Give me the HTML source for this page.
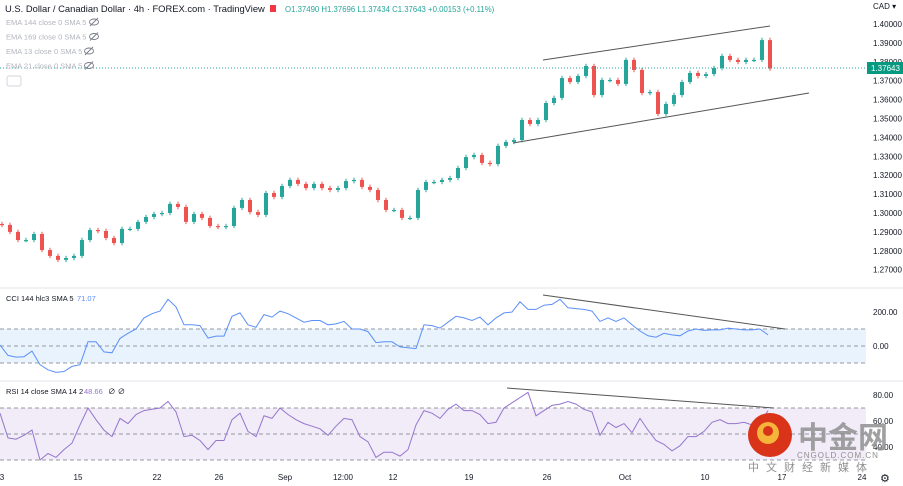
<!DOCTYPE html>
<html><head><meta charset="utf-8"><style>
html,body{margin:0;padding:0;background:#fff;width:903px;height:486px;overflow:hidden;font-family:"Liberation Sans","Noto Sans CJK SC",sans-serif}
svg{position:absolute;left:0;top:0}
</style></head><body>
<svg id="c" width="903" height="486" xmlns="http://www.w3.org/2000/svg"></svg>
<script>
const closes=[1.2937,1.2900,1.2857,1.2857,1.2889,1.2804,1.2773,1.2752,1.2762,1.2773,1.2857,1.2910,1.2905,1.2868,1.2841,1.2916,1.2916,1.2953,1.2979,1.2995,1.3000,1.3048,1.3032,1.2953,1.2995,1.2974,1.2931,1.2926,1.2931,1.3027,1.3069,1.3005,1.2990,1.3106,1.3085,1.3143,1.3175,1.3154,1.3132,1.3154,1.3132,1.3122,1.3132,1.3169,1.3175,1.3138,1.3122,1.3069,1.3016,1.3016,1.2974,1.2974,1.3122,1.3164,1.3164,1.3175,1.3185,1.3238,1.3296,1.3307,1.3265,1.3259,1.3355,1.3376,1.3386,1.3492,1.3471,1.3492,1.3582,1.3609,1.3714,1.3693,1.3725,1.3778,1.3624,1.3704,1.3704,1.3683,1.3810,1.3757,1.3635,1.3640,1.3524,1.3577,1.3624,1.3693,1.3741,1.3725,1.3735,1.3767,1.3831,1.3810,1.3799,1.3810,1.3810,1.3915,1.3764];
const cciValues=[5,-55,-65,-63,-30,-110,-140,-155,-150,-120,-110,25,25,-35,-40,45,75,100,165,190,205,275,230,125,125,120,47,58,58,175,195,125,110,185,170,205,190,165,140,150,150,125,130,145,100,100,85,20,25,25,-5,-10,-15,125,120,105,140,175,165,150,170,125,165,195,200,260,215,215,240,245,275,225,220,215,205,145,165,145,165,125,88,60,52,75,65,60,88,100,92,95,95,105,100,95,95,100,65];
const rsiValues=[66,47,46,49,53,30,35,32,38,43,57,70,61,53,48,62,58,65,68,69,70,75,67,48,49,45,38,45,45,61,66,52,48,64,62,70,65,61,58,56,54,49,56,62,61,48,44,32,36,36,33,38,57,68,66,62,69,73,68,68,65,58,59,70,74,78,82,64,68,72,73,75,73,69,67,49,59,55,58,51,62,53,45,42,37,41,48,48,52,59,61,58,58,59,57,58,68];
const priceTicks=[1.40,1.39,1.38,1.37,1.36,1.35,1.34,1.33,1.32,1.31,1.30,1.29,1.28,1.27];
const timeLabels=["3","15","22","26","Sep","12:00","12","19","26","Oct","10","17","24"];
const timeLabelX=[2,78,157,219,285,343,393,469,547,625,705,782,862];

const NS="http://www.w3.org/2000/svg";
const svg=document.getElementById('c');
function el(t,a,txt){const e=document.createElementNS(NS,t);for(const k in a)e.setAttribute(k,a[k]);if(txt!==undefined)e.textContent=txt;svg.appendChild(e);return e;}
const yP=p=>24+(1.40-p)/0.01*18.9;
const yC=v=>346-v*0.17;
const yR=v=>395-(v-80)*1.3;
const xCandle=i=>2+i*(768/(closes.length-1));
const xInd=(i,n)=>i*(768/(n-1));

let e;
e=el('line',{x1:0,y1:288,x2:903,y2:288,stroke:'#e0e3eb'});
e=el('line',{x1:0,y1:381,x2:903,y2:381,stroke:'#e0e3eb'});
e=el('rect',{x:0,y:yC(100),width:866,height:yC(-100)-yC(100),fill:'#e8f3fd'});
[100,0,-100].forEach(v=>{e=el('line',{x1:0,y1:yC(v),x2:866,y2:yC(v),stroke:'#9598a1','stroke-dasharray':'4 3'});});
e=el('rect',{x:0,y:yR(70),width:866,height:yR(30)-yR(70),fill:'#f1ecf8'});
[70,50,30].forEach(v=>{e=el('line',{x1:0,y1:yR(v),x2:866,y2:yR(v),stroke:'#9598a1','stroke-dasharray':'4 3'});});

priceTicks.forEach(p=>{e=el('text',{x:873,y:yP(p)+3,'font-size':8,fill:'#131722'},p.toFixed(5));});
e=el('text',{x:873,y:9,'font-size':8,fill:'#131722'},'CAD ▾');
[[200,'200.00'],[0,'0.00']].forEach(t=>{e=el('text',{x:873,y:yC(t[0])+3,'font-size':8,fill:'#131722'},t[1]);});
[[80,'80.00'],[60,'60.00'],[40,'40.00']].forEach(t=>{e=el('text',{x:873,y:yR(t[0])+3,'font-size':8,fill:'#131722'},t[1]);});
timeLabels.forEach((t,i)=>{e=el('text',{x:timeLabelX[i],y:480,'font-size':8,fill:'#131722','text-anchor':'middle'},t);});

for(let i=0;i<closes.length;i++){
  const c=closes[i], o=i?closes[i-1]:c+0.0005;
  const up=c>=o, col=up?'#26a69a':'#ef5350';
  const x=xCandle(i);
  const hi=Math.max(o,c)+0.0012, lo=Math.min(o,c)-0.0012;
  e=el('line',{x1:x,y1:yP(hi),x2:x,y2:yP(lo),stroke:col,'stroke-width':1});
  
  
  const yt=yP(Math.max(o,c)), h=Math.max(1.2,Math.abs(yP(o)-yP(c)));
  e=el('rect',{x:x-2,y:yt,width:4,height:h,fill:col});
  
  
}
e=el('line',{x1:0,y1:68,x2:866,y2:68,stroke:'#26a69a','stroke-dasharray':'1 2'});
e=el('rect',{x:867,y:62,width:36,height:12,fill:'#089981'});
el('text',{x:871,y:71,'font-size':8,fill:'#fff'},'1.37643');

e=el('line',{x1:543,y1:60,x2:770,y2:26,stroke:'#555','stroke-width':1});
e=el('line',{x1:513,y1:143,x2:809,y2:93,stroke:'#555','stroke-width':1});

let d='';cciValues.forEach((v,i)=>{d+=(i?'L':'M')+xInd(i,cciValues.length).toFixed(1)+' '+yC(v).toFixed(1);});
e=el('path',{d:d,fill:'none',stroke:'#5b8ff9','stroke-width':1});
e=el('line',{x1:543,y1:295,x2:785,y2:329,stroke:'#555'});
d='';rsiValues.forEach((v,i)=>{d+=(i?'L':'M')+xInd(i,rsiValues.length).toFixed(1)+' '+yR(v).toFixed(1);});
e=el('path',{d:d,fill:'none',stroke:'#9575cd','stroke-width':1});
e=el('line',{x1:507,y1:388,x2:774,y2:408,stroke:'#555'});

e=el('text',{x:5,y:12,'font-size':9.4,fill:'#131722'},'U.S. Dollar / Canadian Dollar · 4h · FOREX.com · TradingView');
e=el('rect',{x:270,y:5,width:6,height:7,fill:'#f23645'});
e=el('text',{x:285,y:12,'font-size':7.8,fill:'#26a69a'},'O1.37490 H1.37696 L1.37434 C1.37643 +0.00153 (+0.11%)');
['EMA 144 close 0 SMA 5','EMA 169 close 0 SMA 5','EMA 13 close 0 SMA 5','EMA 21 close 0 SMA 5'].forEach((t,i)=>{
  e=el('text',{x:6,y:25+i*14.5,'font-size':7.5,fill:'#b2b5be'},t);
  
  
  const ex=i<2?94:89;
  e=el('ellipse',{cx:ex,cy:22+i*14.5,rx:4.5,ry:3,fill:'none',stroke:'#787b86','stroke-width':0.9});
  
  
  el('line',{x1:ex-4,y1:26+i*14.5,x2:ex+4,y2:18+i*14.5,stroke:'#787b86','stroke-width':0.9});
});
e=el('rect',{x:7,y:76,width:14,height:10,rx:2,fill:'#fff',stroke:'#d1d4dc'});
e=el('text',{x:6,y:301,'font-size':7.5,fill:'#131722'},'CCI 144 hlc3 SMA 5');
el('text',{x:77,y:301,'font-size':7.5,fill:'#5b8ff9'},'71.07');
e=el('text',{x:6,y:394,'font-size':7.5,fill:'#131722'},'RSI 14 close SMA 14 2');
el('text',{x:84,y:394,'font-size':7.5,fill:'#9575cd'},'48.66');
el('text',{x:108,y:394,'font-size':7.5,fill:'#131722'},'∅ ∅');

e=el('circle',{cx:770,cy:435,r:22,fill:'#d9341a'});
el('circle',{cx:768,cy:433,r:11,fill:'#f5b43a'});
el('circle',{cx:768,cy:431,r:5,fill:'#d9341a'});
e=el('text',{x:798,y:448,'font-size':30,'font-weight':'bold',fill:'#8f8f8f','fill-opacity':0.85},'中金网');
el('text',{x:797,y:458,'font-size':8,fill:'#8f8f8f','letter-spacing':1},'CNGOLD.COM.CN');
el('text',{x:748,y:471,'font-size':11,fill:'#8f8f8f','letter-spacing':7},'中文财经新媒体');
e=el('text',{x:880,y:482,'font-size':11,fill:'#131722'},'⚙');
</script>
</body></html>
